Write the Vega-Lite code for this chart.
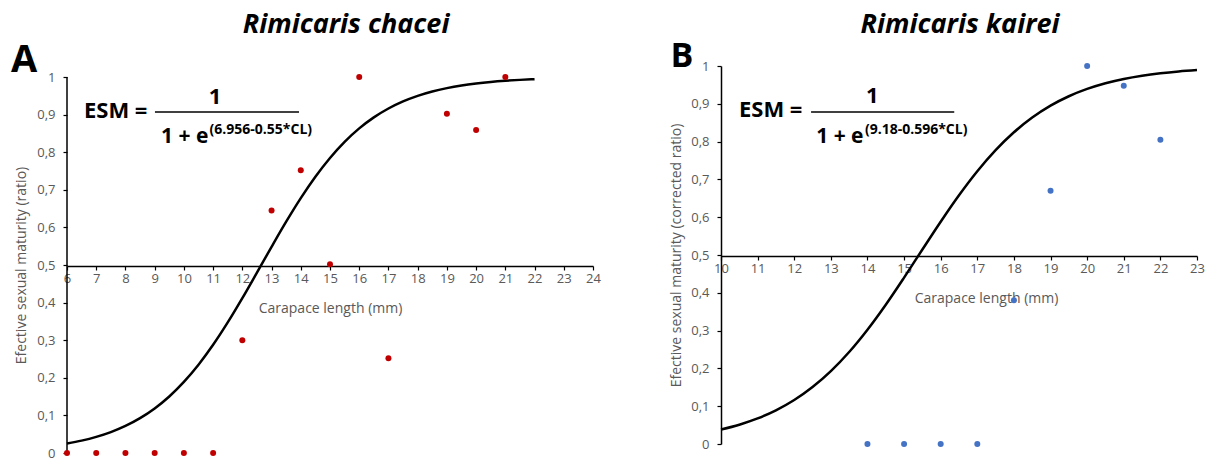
{
  "$schema": "https://vega.github.io/schema/vega-lite/v6.json",
  "background": "white",
  "padding": {"left": 10, "top": 11, "right": 10, "bottom": 0},
  "autosize": {"type": "pad"},
  "spacing": 68,
  "config": {
    "view": {"stroke": null},
    "font": "Open Sans",
    "axis": {
      "grid": false,
      "domainColor": "black",
      "domainWidth": 1.5,
      "tickColor": "black",
      "tickWidth": 1.2,
      "tickSize": 4,
      "labelColor": "#595959",
      "labelFontSize": 13,
      "labelFont": "Open Sans",
      "titleColor": "#595959",
      "titleFontSize": 14,
      "titleFont": "Open Sans",
      "titleFontWeight": "normal",
      "labelFlush": false,
      "labelOverlap": false
    }
  },
  "datasets": {
    "pointsA": [
      {"CL": 6, "ESM": 0}, {"CL": 7, "ESM": 0}, {"CL": 8, "ESM": 0}, {"CL": 9, "ESM": 0},
      {"CL": 10, "ESM": 0}, {"CL": 11, "ESM": 0}, {"CL": 12, "ESM": 0.3}, {"CL": 13, "ESM": 0.645},
      {"CL": 14, "ESM": 0.752}, {"CL": 15, "ESM": 0.502}, {"CL": 16, "ESM": 1.0}, {"CL": 17, "ESM": 0.252},
      {"CL": 19, "ESM": 0.902}, {"CL": 20, "ESM": 0.859}, {"CL": 21, "ESM": 1.0}
    ],
    "curveA": [
      {"CL": 6, "ESM": 0.0252}, {"CL": 6.5, "ESM": 0.0329}, {"CL": 7, "ESM": 0.0429}, {"CL": 7.5, "ESM": 0.0557},
      {"CL": 8, "ESM": 0.0720}, {"CL": 8.5, "ESM": 0.0927}, {"CL": 9, "ESM": 0.1186}, {"CL": 9.5, "ESM": 0.1504},
      {"CL": 10, "ESM": 0.1891}, {"CL": 10.5, "ESM": 0.2349}, {"CL": 11, "ESM": 0.2878}, {"CL": 11.5, "ESM": 0.3473},
      {"CL": 12, "ESM": 0.4119}, {"CL": 12.5, "ESM": 0.4798}, {"CL": 13, "ESM": 0.5483}, {"CL": 13.5, "ESM": 0.6152},
      {"CL": 14, "ESM": 0.6779}, {"CL": 14.5, "ESM": 0.7348}, {"CL": 15, "ESM": 0.7848}, {"CL": 15.5, "ESM": 0.8276},
      {"CL": 16, "ESM": 0.8634}, {"CL": 16.5, "ESM": 0.8927}, {"CL": 17, "ESM": 0.9163}, {"CL": 17.5, "ESM": 0.9352},
      {"CL": 18, "ESM": 0.9500}, {"CL": 18.5, "ESM": 0.9616}, {"CL": 19, "ESM": 0.9705}, {"CL": 19.5, "ESM": 0.9775},
      {"CL": 20, "ESM": 0.9828}, {"CL": 20.5, "ESM": 0.9869}, {"CL": 21, "ESM": 0.9900}, {"CL": 21.5, "ESM": 0.9924},
      {"CL": 22, "ESM": 0.9942}
    ],
    "pointsB": [
      {"CL": 14, "ESM": 0}, {"CL": 15, "ESM": 0}, {"CL": 16, "ESM": 0}, {"CL": 17, "ESM": 0},
      {"CL": 18, "ESM": 0.38}, {"CL": 19, "ESM": 0.67}, {"CL": 20, "ESM": 1.0}, {"CL": 21, "ESM": 0.948},
      {"CL": 22, "ESM": 0.805}
    ],
    "curveB": [
      {"CL": 10, "ESM": 0.0384}, {"CL": 10.5, "ESM": 0.0511}, {"CL": 11, "ESM": 0.0676}, {"CL": 11.5, "ESM": 0.0890},
      {"CL": 12, "ESM": 0.1163}, {"CL": 12.5, "ESM": 0.1506}, {"CL": 13, "ESM": 0.1928}, {"CL": 13.5, "ESM": 0.2434},
      {"CL": 14, "ESM": 0.3024}, {"CL": 14.5, "ESM": 0.3686}, {"CL": 15, "ESM": 0.4403}, {"CL": 15.5, "ESM": 0.5145},
      {"CL": 16, "ESM": 0.5880}, {"CL": 16.5, "ESM": 0.6579}, {"CL": 17, "ESM": 0.7215}, {"CL": 17.5, "ESM": 0.7773},
      {"CL": 18, "ESM": 0.8246}, {"CL": 18.5, "ESM": 0.8636}, {"CL": 19, "ESM": 0.8951}, {"CL": 19.5, "ESM": 0.9200},
      {"CL": 20, "ESM": 0.9393}, {"CL": 20.5, "ESM": 0.9543}, {"CL": 21, "ESM": 0.9657}, {"CL": 21.5, "ESM": 0.9743},
      {"CL": 22, "ESM": 0.9808}, {"CL": 22.5, "ESM": 0.9857}, {"CL": 23, "ESM": 0.9893}
    ]
  },
  "hconcat": [
    {
      "width": 526,
      "height": 387,
      "layer": [
        {
          "data": {"name": "curveA"},
          "mark": {"type": "line", "color": "black", "strokeWidth": 2.5, "interpolate": "monotone"},
          "encoding": {
            "x": {"field": "CL", "type": "quantitative", "scale": {"domain": [6, 24], "nice": false, "zero": false},
              "axis": {"title": "Carapace length (mm)", "values": [6,7,8,9,10,11,12,13,14,15,16,17,18,19,20,21,22,23,24], "offset": -187, "labelPadding": 2, "titlePadding": 16}},
            "y": {"field": "ESM", "type": "quantitative", "scale": {"domain": [0, 1.0293], "nice": false, "zero": false},
              "axis": {"title": "Efective sexual maturity (ratio)", "values": [0,0.1,0.2,0.3,0.4,0.5,0.6,0.7,0.8,0.9,1], "format": ".1~f", "labelExpr": "replace(datum.label, '.', ',')", "titlePadding": 8, "labelPadding": 8, "domain": false, "titleY": 199}}
          }
        },
        {
          "data": {"values": [{}]},
          "mark": {"type": "rule", "color": "black", "strokeWidth": 1.5},
          "encoding": {
            "x": {"datum": 6, "type": "quantitative",
              "axis": {"title": "Carapace length (mm)", "values": [6,7,8,9,10,11,12,13,14,15,16,17,18,19,20,21,22,23,24], "offset": -187, "labelPadding": 2, "titlePadding": 16}},
            "y": {"datum": 0, "type": "quantitative",
              "axis": {"title": "Efective sexual maturity (ratio)", "values": [0,0.1,0.2,0.3,0.4,0.5,0.6,0.7,0.8,0.9,1], "format": ".1~f", "labelExpr": "replace(datum.label, '.', ',')", "titlePadding": 8, "labelPadding": 8, "domain": false, "titleY": 199}},
            "y2": {"datum": 1}
          }
        },
        {
          "data": {"name": "pointsA"},
          "mark": {"type": "circle", "color": "#C00000", "size": 36, "opacity": 1},
          "encoding": {
            "x": {"field": "CL", "type": "quantitative",
              "axis": {"title": "Carapace length (mm)", "values": [6,7,8,9,10,11,12,13,14,15,16,17,18,19,20,21,22,23,24], "offset": -187, "labelPadding": 2, "titlePadding": 16}},
            "y": {"field": "ESM", "type": "quantitative",
              "axis": {"title": "Efective sexual maturity (ratio)", "values": [0,0.1,0.2,0.3,0.4,0.5,0.6,0.7,0.8,0.9,1], "format": ".1~f", "labelExpr": "replace(datum.label, '.', ',')", "titlePadding": 8, "labelPadding": 8, "domain": false, "titleY": 199}}
          }
        },
        {
          "data": {"values": [{}]},
          "mark": {"type": "text", "text": "Rimicaris chacei", "font": "Open Sans", "fontSize": 27, "fontStyle": "italic", "fontWeight": "bold", "color": "black", "align": "center", "baseline": "alphabetic"},
          "encoding": {
            "x": {"datum": 15.55, "type": "quantitative",
              "axis": {"title": "Carapace length (mm)", "values": [6,7,8,9,10,11,12,13,14,15,16,17,18,19,20,21,22,23,24], "offset": -187, "labelPadding": 2, "titlePadding": 16}},
            "y": {"datum": 1.117, "type": "quantitative",
              "axis": {"title": "Efective sexual maturity (ratio)", "values": [0,0.1,0.2,0.3,0.4,0.5,0.6,0.7,0.8,0.9,1], "format": ".1~f", "labelExpr": "replace(datum.label, '.', ',')", "titlePadding": 8, "labelPadding": 8, "domain": false, "titleY": 199}}
          }
        },
        {
          "data": {"values": [{}]},
          "mark": {"type": "text", "text": "A", "font": "Open Sans", "fontSize": 38, "fontWeight": "bold", "color": "black", "align": "left", "baseline": "alphabetic"},
          "encoding": {
            "x": {"datum": 4.08, "type": "quantitative",
              "axis": {"title": "Carapace length (mm)", "values": [6,7,8,9,10,11,12,13,14,15,16,17,18,19,20,21,22,23,24], "offset": -187, "labelPadding": 2, "titlePadding": 16}},
            "y": {"datum": 1.013, "type": "quantitative",
              "axis": {"title": "Efective sexual maturity (ratio)", "values": [0,0.1,0.2,0.3,0.4,0.5,0.6,0.7,0.8,0.9,1], "format": ".1~f", "labelExpr": "replace(datum.label, '.', ',')", "titlePadding": 8, "labelPadding": 8, "domain": false, "titleY": 199}}
          }
        },
        {
          "data": {"values": [{}]},
          "mark": {"type": "text", "text": "ESM =", "font": "Open Sans", "fontSize": 22, "fontWeight": "bold", "color": "black", "align": "left", "baseline": "alphabetic"},
          "encoding": {
            "x": {"datum": 6.58, "type": "quantitative",
              "axis": {"title": "Carapace length (mm)", "values": [6,7,8,9,10,11,12,13,14,15,16,17,18,19,20,21,22,23,24], "offset": -187, "labelPadding": 2, "titlePadding": 16}},
            "y": {"datum": 0.891, "type": "quantitative",
              "axis": {"title": "Efective sexual maturity (ratio)", "values": [0,0.1,0.2,0.3,0.4,0.5,0.6,0.7,0.8,0.9,1], "format": ".1~f", "labelExpr": "replace(datum.label, '.', ',')", "titlePadding": 8, "labelPadding": 8, "domain": false, "titleY": 199}}
          }
        },
        {
          "data": {"values": [{}]},
          "mark": {"type": "text", "text": "1", "font": "Open Sans", "fontSize": 22, "fontWeight": "bold", "color": "black", "align": "center", "baseline": "alphabetic"},
          "encoding": {
            "x": {"datum": 11.07, "type": "quantitative",
              "axis": {"title": "Carapace length (mm)", "values": [6,7,8,9,10,11,12,13,14,15,16,17,18,19,20,21,22,23,24], "offset": -187, "labelPadding": 2, "titlePadding": 16}},
            "y": {"datum": 0.928, "type": "quantitative",
              "axis": {"title": "Efective sexual maturity (ratio)", "values": [0,0.1,0.2,0.3,0.4,0.5,0.6,0.7,0.8,0.9,1], "format": ".1~f", "labelExpr": "replace(datum.label, '.', ',')", "titlePadding": 8, "labelPadding": 8, "domain": false, "titleY": 199}}
          }
        },
        {
          "data": {"values": [{}]},
          "mark": {"type": "rule", "color": "black", "strokeWidth": 1.5},
          "encoding": {
            "x": {"datum": 9.01, "type": "quantitative",
              "axis": {"title": "Carapace length (mm)", "values": [6,7,8,9,10,11,12,13,14,15,16,17,18,19,20,21,22,23,24], "offset": -187, "labelPadding": 2, "titlePadding": 16}},
            "x2": {"datum": 13.94},
            "y": {"datum": 0.907, "type": "quantitative",
              "axis": {"title": "Efective sexual maturity (ratio)", "values": [0,0.1,0.2,0.3,0.4,0.5,0.6,0.7,0.8,0.9,1], "format": ".1~f", "labelExpr": "replace(datum.label, '.', ',')", "titlePadding": 8, "labelPadding": 8, "domain": false, "titleY": 199}}
          }
        },
        {
          "data": {"values": [{}]},
          "mark": {"type": "text", "text": "1 + e", "font": "Open Sans", "fontSize": 21, "fontWeight": "bold", "color": "black", "align": "left", "baseline": "alphabetic"},
          "encoding": {
            "x": {"datum": 9.22, "type": "quantitative",
              "axis": {"title": "Carapace length (mm)", "values": [6,7,8,9,10,11,12,13,14,15,16,17,18,19,20,21,22,23,24], "offset": -187, "labelPadding": 2, "titlePadding": 16}},
            "y": {"datum": 0.824, "type": "quantitative",
              "axis": {"title": "Efective sexual maturity (ratio)", "values": [0,0.1,0.2,0.3,0.4,0.5,0.6,0.7,0.8,0.9,1], "format": ".1~f", "labelExpr": "replace(datum.label, '.', ',')", "titlePadding": 8, "labelPadding": 8, "domain": false, "titleY": 199}}
          }
        },
        {
          "data": {"values": [{}]},
          "mark": {"type": "text", "text": "(6.956-0.55*CL)", "font": "Open Sans", "fontSize": 14, "fontWeight": "bold", "color": "black", "align": "left", "baseline": "alphabetic"},
          "encoding": {
            "x": {"datum": 10.88, "type": "quantitative",
              "axis": {"title": "Carapace length (mm)", "values": [6,7,8,9,10,11,12,13,14,15,16,17,18,19,20,21,22,23,24], "offset": -187, "labelPadding": 2, "titlePadding": 16}},
            "y": {"datum": 0.849, "type": "quantitative",
              "axis": {"title": "Efective sexual maturity (ratio)", "values": [0,0.1,0.2,0.3,0.4,0.5,0.6,0.7,0.8,0.9,1], "format": ".1~f", "labelExpr": "replace(datum.label, '.', ',')", "titlePadding": 8, "labelPadding": 8, "domain": false, "titleY": 199}}
          }
        }
      ]
    },
    {
      "width": 476,
      "height": 378,
      "layer": [
        {
          "data": {"name": "curveB"},
          "mark": {"type": "line", "color": "black", "strokeWidth": 2.5, "interpolate": "monotone"},
          "encoding": {
            "x": {"field": "CL", "type": "quantitative", "scale": {"domain": [10, 23], "nice": false, "zero": false},
              "axis": {"title": "Carapace length (mm)", "values": [10,11,12,13,14,15,16,17,18,19,20,21,22,23], "offset": -188, "labelPadding": 2, "titlePadding": 16, "titleX": 265}},
            "y": {"field": "ESM", "type": "quantitative", "scale": {"domain": [0, 1], "nice": false},
              "axis": {"title": "Efective sexual maturity (corrected ratio)", "values": [0,0.1,0.2,0.3,0.4,0.5,0.6,0.7,0.8,0.9,1], "format": ".1~f", "labelExpr": "replace(datum.label, '.', ',')", "titlePadding": 7, "labelPadding": 8}}
          }
        },
        {
          "data": {"name": "pointsB"},
          "mark": {"type": "circle", "color": "#4472C4", "size": 36, "opacity": 1},
          "encoding": {
            "x": {"field": "CL", "type": "quantitative",
              "axis": {"title": "Carapace length (mm)", "values": [10,11,12,13,14,15,16,17,18,19,20,21,22,23], "offset": -188, "labelPadding": 2, "titlePadding": 16, "titleX": 265}},
            "y": {"field": "ESM", "type": "quantitative",
              "axis": {"title": "Efective sexual maturity (corrected ratio)", "values": [0,0.1,0.2,0.3,0.4,0.5,0.6,0.7,0.8,0.9,1], "format": ".1~f", "labelExpr": "replace(datum.label, '.', ',')", "titlePadding": 7, "labelPadding": 8}}
          }
        },
        {
          "data": {"values": [{}]},
          "mark": {"type": "text", "text": "Rimicaris kairei", "font": "Open Sans", "fontSize": 27, "fontStyle": "italic", "fontWeight": "bold", "color": "black", "align": "center", "baseline": "alphabetic"},
          "encoding": {
            "x": {"datum": 16.53, "type": "quantitative",
              "axis": {"title": "Carapace length (mm)", "values": [10,11,12,13,14,15,16,17,18,19,20,21,22,23], "offset": -188, "labelPadding": 2, "titlePadding": 16, "titleX": 265}},
            "y": {"datum": 1.087, "type": "quantitative",
              "axis": {"title": "Efective sexual maturity (corrected ratio)", "values": [0,0.1,0.2,0.3,0.4,0.5,0.6,0.7,0.8,0.9,1], "format": ".1~f", "labelExpr": "replace(datum.label, '.', ',')", "titlePadding": 7, "labelPadding": 8}}
          }
        },
        {
          "data": {"values": [{}]},
          "mark": {"type": "text", "text": "B", "font": "Open Sans", "fontSize": 34, "fontWeight": "bold", "color": "black", "align": "left", "baseline": "alphabetic"},
          "encoding": {
            "x": {"datum": 8.62, "type": "quantitative",
              "axis": {"title": "Carapace length (mm)", "values": [10,11,12,13,14,15,16,17,18,19,20,21,22,23], "offset": -188, "labelPadding": 2, "titlePadding": 16, "titleX": 265}},
            "y": {"datum": 0.997, "type": "quantitative",
              "axis": {"title": "Efective sexual maturity (corrected ratio)", "values": [0,0.1,0.2,0.3,0.4,0.5,0.6,0.7,0.8,0.9,1], "format": ".1~f", "labelExpr": "replace(datum.label, '.', ',')", "titlePadding": 7, "labelPadding": 8}}
          }
        },
        {
          "data": {"values": [{}]},
          "mark": {"type": "text", "text": "ESM =", "font": "Open Sans", "fontSize": 22, "fontWeight": "bold", "color": "black", "align": "left", "baseline": "alphabetic"},
          "encoding": {
            "x": {"datum": 10.49, "type": "quantitative",
              "axis": {"title": "Carapace length (mm)", "values": [10,11,12,13,14,15,16,17,18,19,20,21,22,23], "offset": -188, "labelPadding": 2, "titlePadding": 16, "titleX": 265}},
            "y": {"datum": 0.865, "type": "quantitative",
              "axis": {"title": "Efective sexual maturity (corrected ratio)", "values": [0,0.1,0.2,0.3,0.4,0.5,0.6,0.7,0.8,0.9,1], "format": ".1~f", "labelExpr": "replace(datum.label, '.', ',')", "titlePadding": 7, "labelPadding": 8}}
          }
        },
        {
          "data": {"values": [{}]},
          "mark": {"type": "text", "text": "1", "font": "Open Sans", "fontSize": 22, "fontWeight": "bold", "color": "black", "align": "center", "baseline": "alphabetic"},
          "encoding": {
            "x": {"datum": 14.13, "type": "quantitative",
              "axis": {"title": "Carapace length (mm)", "values": [10,11,12,13,14,15,16,17,18,19,20,21,22,23], "offset": -188, "labelPadding": 2, "titlePadding": 16, "titleX": 265}},
            "y": {"datum": 0.902, "type": "quantitative",
              "axis": {"title": "Efective sexual maturity (corrected ratio)", "values": [0,0.1,0.2,0.3,0.4,0.5,0.6,0.7,0.8,0.9,1], "format": ".1~f", "labelExpr": "replace(datum.label, '.', ',')", "titlePadding": 7, "labelPadding": 8}}
          }
        },
        {
          "data": {"values": [{}]},
          "mark": {"type": "rule", "color": "black", "strokeWidth": 1.5},
          "encoding": {
            "x": {"datum": 12.46, "type": "quantitative",
              "axis": {"title": "Carapace length (mm)", "values": [10,11,12,13,14,15,16,17,18,19,20,21,22,23], "offset": -188, "labelPadding": 2, "titlePadding": 16, "titleX": 265}},
            "x2": {"datum": 16.37},
            "y": {"datum": 0.878, "type": "quantitative",
              "axis": {"title": "Efective sexual maturity (corrected ratio)", "values": [0,0.1,0.2,0.3,0.4,0.5,0.6,0.7,0.8,0.9,1], "format": ".1~f", "labelExpr": "replace(datum.label, '.', ',')", "titlePadding": 7, "labelPadding": 8}}
          }
        },
        {
          "data": {"values": [{}]},
          "mark": {"type": "text", "text": "1 + e", "font": "Open Sans", "fontSize": 21, "fontWeight": "bold", "color": "black", "align": "left", "baseline": "alphabetic"},
          "encoding": {
            "x": {"datum": 12.6, "type": "quantitative",
              "axis": {"title": "Carapace length (mm)", "values": [10,11,12,13,14,15,16,17,18,19,20,21,22,23], "offset": -188, "labelPadding": 2, "titlePadding": 16, "titleX": 265}},
            "y": {"datum": 0.796, "type": "quantitative",
              "axis": {"title": "Efective sexual maturity (corrected ratio)", "values": [0,0.1,0.2,0.3,0.4,0.5,0.6,0.7,0.8,0.9,1], "format": ".1~f", "labelExpr": "replace(datum.label, '.', ',')", "titlePadding": 7, "labelPadding": 8}}
          }
        },
        {
          "data": {"values": [{}]},
          "mark": {"type": "text", "text": "(9.18-0.596*CL)", "font": "Open Sans", "fontSize": 14, "fontWeight": "bold", "color": "black", "align": "left", "baseline": "alphabetic"},
          "encoding": {
            "x": {"datum": 13.93, "type": "quantitative",
              "axis": {"title": "Carapace length (mm)", "values": [10,11,12,13,14,15,16,17,18,19,20,21,22,23], "offset": -188, "labelPadding": 2, "titlePadding": 16, "titleX": 265}},
            "y": {"datum": 0.82, "type": "quantitative",
              "axis": {"title": "Efective sexual maturity (corrected ratio)", "values": [0,0.1,0.2,0.3,0.4,0.5,0.6,0.7,0.8,0.9,1], "format": ".1~f", "labelExpr": "replace(datum.label, '.', ',')", "titlePadding": 7, "labelPadding": 8}}
          }
        }
      ]
    }
  ]
}
